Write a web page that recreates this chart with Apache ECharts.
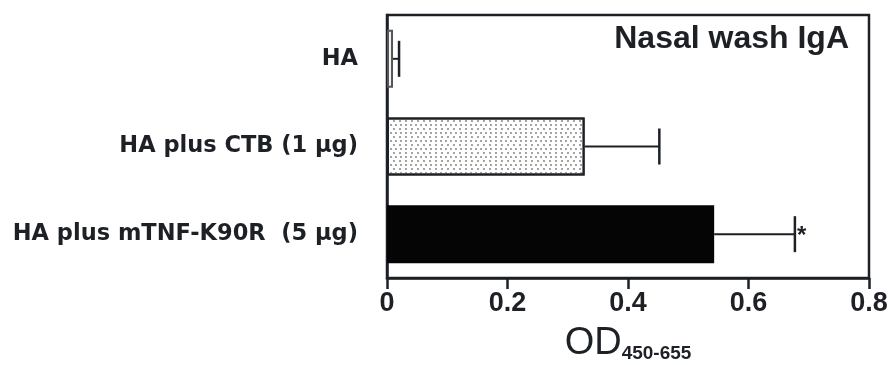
<!DOCTYPE html>
<html>
<head>
<meta charset="utf-8">
<script src="https://cdn.jsdelivr.net/npm/echarts@6/dist/echarts.min.js"></script>
<style>
html,body{margin:0;padding:0;background:#fff;}
#chart{width:888px;height:365px;}
</style>
</head>
<body>
<div id="chart"></div>
<script>
// ---- data ----
var categories = ['HA', 'HA plus CTB (1 \u00b5g)', 'HA plus mTNF-K90R  (5 \u00b5g)'];
var means = [0.01, 0.328, 0.543];
var errors = [0.01, 0.124, 0.134];
var significance = ['', '', '*'];
var xTicks = [0, 0.2, 0.4, 0.6, 0.8];
var panelTitle = 'Nasal wash IgA';

var ink = '#1d2126';
var chart = echarts.init(document.getElementById('chart'));

var barData = means.map(function (v, i) {
  var style;
  if (i === 0) {
    style = { color: '#f2f2f2', borderColor: '#555', borderWidth: 2 };
  } else if (i === 1) {
    style = {
      color: '#ffffff', borderColor: ink, borderWidth: 2,
      decal: { symbol: 'circle', symbolSize: 0.9, color: '#7a7a7a',
               dashArrayX: [[2, 3], [0, 2.5, 2, 0.5]], dashArrayY: [2, 2] }
    };
  } else {
    style = { color: '#050505', borderColor: '#050505', borderWidth: 2 };
  }
  return { value: v, itemStyle: style };
});

var errData = means.map(function (v, i) { return [v, i, v + errors[i], significance[i]]; });

chart.setOption({
  animation: false,
  backgroundColor: '#fff',
  title: {
    text: panelTitle,
    right: 34, top: 18,
    textStyle: { fontFamily: 'Liberation Sans', fontWeight: 'bold', fontSize: 32, color: ink }
  },
  grid: {
    left: 387, right: 19, top: 15, bottom: 87,
    outerBoundsMode: 'none',
    containLabel: false,
    show: true, borderColor: ink, borderWidth: 2.5, backgroundColor: 'transparent'
  },
  xAxis: {
    type: 'value',
    min: xTicks[0], max: xTicks[xTicks.length - 1], interval: 0.2,
    splitLine: { show: false },
    axisLine: { show: true, lineStyle: { color: ink, width: 2.5 } },
    axisTick: { show: true, length: 11, lineStyle: { color: ink, width: 2.5 } },
    axisLabel: {
      margin: 12, color: ink, fontFamily: 'Liberation Sans', fontWeight: 'bold', fontSize: 27,
      formatter: function (v) { return v === 0 ? '0' : v.toFixed(1); }
    },
    name: '{a|OD}{b|450-655}',
    nameLocation: 'middle',
    nameGap: 47,
    nameTextStyle: {
      rich: {
        a: { fontFamily: 'Liberation Sans', fontSize: 38, color: ink, verticalAlign: 'bottom', lineHeight: 38 },
        b: { fontFamily: 'Liberation Sans', fontWeight: 'bold', fontSize: 19, color: ink, padding: [15, 0, 0, 0], verticalAlign: 'bottom', lineHeight: 38 }
      }
    }
  },
  yAxis: {
    type: 'category',
    inverse: true,
    data: categories,
    axisLine: { show: true, lineStyle: { color: ink, width: 2.5 } },
    axisTick: { show: false },
    axisLabel: {
      margin: 29, color: ink, fontFamily: 'DejaVu Sans', fontWeight: 'bold', fontSize: 22.5
    }
  },
  series: [
    {
      type: 'bar',
      data: barData,
      barWidth: 58,
      z: 2
    },
    {
      type: 'custom',
      z: 3,
      data: errData,
      encode: { x: [0, 2], y: 1 },
      renderItem: function (params, api) {
        var p0 = api.coord([api.value(0), api.value(1)]);
        var p1 = api.coord([api.value(2), api.value(1)]);
        var half = 18;
        var children = [
          { type: 'line', shape: { x1: p0[0], y1: p0[1], x2: p1[0], y2: p1[1] },
            style: { stroke: ink, lineWidth: 2 } },
          { type: 'line', shape: { x1: p1[0], y1: p1[1] - half, x2: p1[0], y2: p1[1] + half },
            style: { stroke: ink, lineWidth: 2.5 } }
        ];
        var sig = significance[params.dataIndex];
        if (sig) {
          children.push({ type: 'text', x: p1[0] + 2, y: p1[1] + 2,
            style: { text: sig, fill: ink, font: 'bold 24px "Liberation Sans"', textAlign: 'left', textVerticalAlign: 'middle' } });
        }
        return { type: 'group', children: children };
      }
    }
  ]
});
</script>
</body>
</html>
